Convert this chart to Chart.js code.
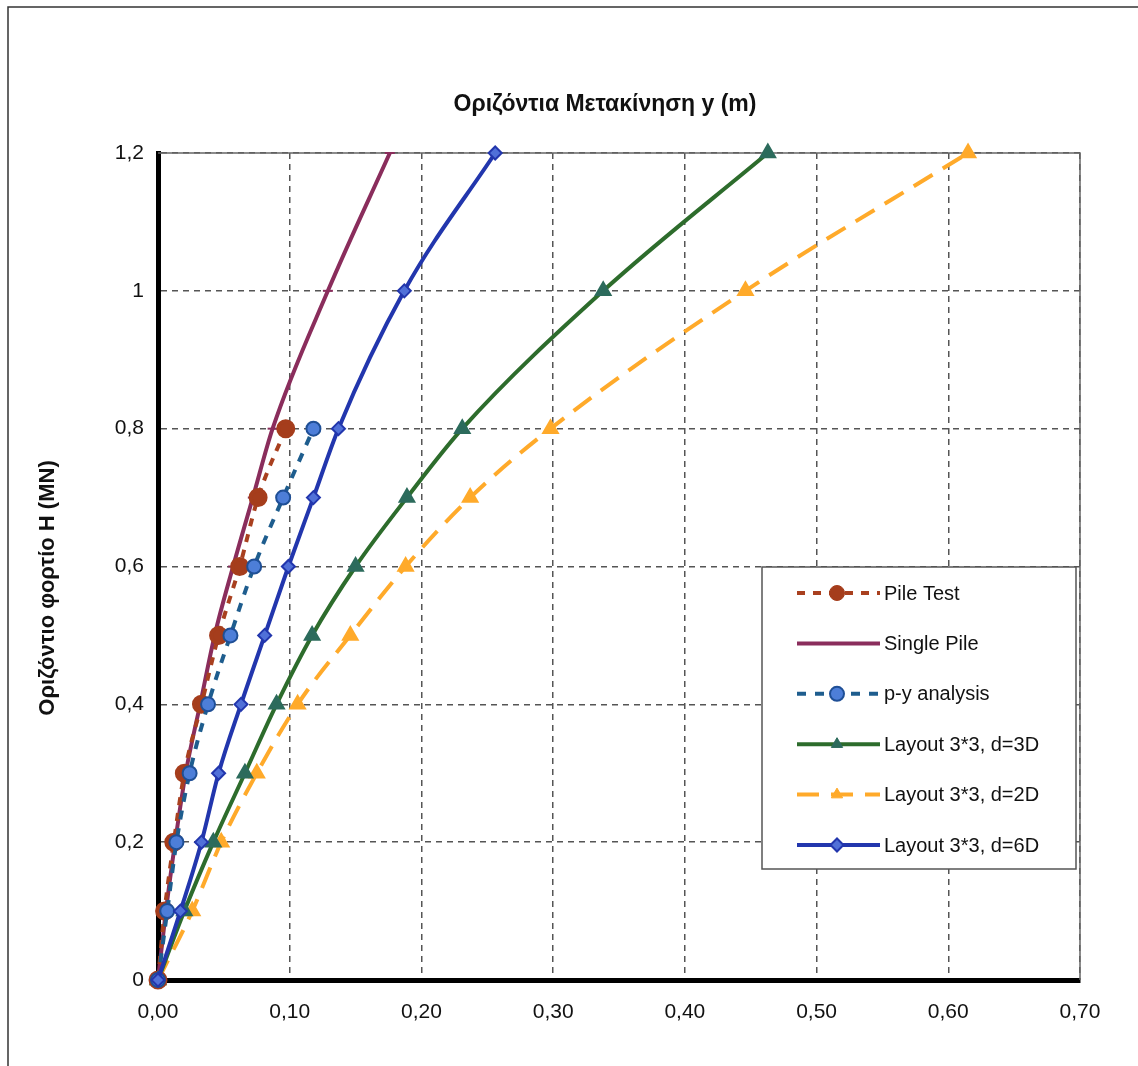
<!DOCTYPE html>
<html>
<head>
<meta charset="utf-8">
<script src="https://cdn.jsdelivr.net/npm/chart.js@4.4.1/dist/chart.umd.min.js"></script>
<style>
  body { margin: 0; background: #fff; }
  canvas { display: block; }
</style>
</head>
<body>
<canvas id="chart" width="1138" height="1066"></canvas>
<script>
// loads (MN) and horizontal displacements (m)
const loadsShort = [0, 0.1, 0.2, 0.3, 0.4, 0.5, 0.6, 0.7, 0.8];
const loadsLong = [0, 0.1, 0.2, 0.3, 0.4, 0.5, 0.6, 0.7, 0.8, 1.0, 1.2];

const pileTest = [0, 0.005, 0.012, 0.020, 0.033, 0.046, 0.062, 0.076, 0.097];
const pyAnalysis = [0, 0.007, 0.014, 0.024, 0.038, 0.055, 0.073, 0.095, 0.118];
const singlePile = [0, 0.006, 0.013, 0.021, 0.032, 0.043, 0.057, 0.072, 0.087, 0.129, 0.176];
const layout3D = [0, 0.020, 0.042, 0.066, 0.090, 0.117, 0.150, 0.189, 0.231, 0.338, 0.463];
const layout2D = [0, 0.026, 0.048, 0.075, 0.106, 0.146, 0.188, 0.237, 0.298, 0.446, 0.615];
const layout6D = [0, 0.017, 0.033, 0.046, 0.063, 0.081, 0.099, 0.118, 0.137, 0.187, 0.256];

const xTicksMax = 0.7, yTicksMax = 1.2;
const titleText = "Οριζόντια Μετακίνηση y (m)";
const yTitleText = "Οριζόντιο φορτίο Η (MN)";

function pts(xs, ys) {
  return xs.map((x, i) => ({ x: x, y: ys[i] }));
}

// order: lower is drawn on top
const datasets = [
  {
    label: "Pile Test",
    data: pts(pileTest, loadsShort),
    order: 2,
    borderColor: "#a9401f",
    borderWidth: 4,
    borderDash: [8, 8],
    pointStyle: "circle",
    pointRadius: 7.5,
    pointBackgroundColor: "#a53d1c",
    pointBorderColor: "#a53d1c",
  },
  {
    label: "Single Pile",
    data: pts(singlePile, loadsLong),
    order: 3,
    borderColor: "#8a2d5c",
    borderWidth: 4,
    pointStyle: "line",
    pointRadius: 5,
    pointBorderColor: "#8a2d5c",
    pointBorderWidth: 2,
  },
  {
    label: "p-y analysis",
    data: pts(pyAnalysis, loadsShort),
    order: 1,
    borderColor: "#1e5d8e",
    borderWidth: 4,
    borderDash: [9, 9],
    pointStyle: "circle",
    pointRadius: 7,
    pointBackgroundColor: "#4d7ed8",
    pointBorderColor: "#1f4f96",
    pointBorderWidth: 2,
  },
  {
    label: "Layout 3*3, d=3D",
    data: pts(layout3D, loadsLong),
    order: 4,
    borderColor: "#2d6c2c",
    borderWidth: 4,
    pointStyle: "triangle",
    pointRadius: 6.5,
    pointBackgroundColor: "#2c6b5c",
    pointBorderColor: "#2c6b5c",
  },
  {
    label: "Layout 3*3, d=2D",
    data: pts(layout2D, loadsLong),
    order: 5,
    borderColor: "#ffaa2a",
    borderWidth: 4,
    borderDash: [22, 12],
    pointStyle: "triangle",
    pointRadius: 6.5,
    pointBackgroundColor: "#ffaa2a",
    pointBorderColor: "#ffaa2a",
  },
  {
    label: "Layout 3*3, d=6D",
    data: pts(layout6D, loadsLong),
    order: 0,
    borderColor: "#2236ad",
    borderWidth: 4,
    pointStyle: "rectRot",
    pointRadius: 6.5,
    pointBackgroundColor: "#5070d8",
    pointBorderColor: "#2236ad",
    pointBorderWidth: 2,
  },
];

function comma(v, d) {
  return v.toFixed(d).replace(".", ",");
}

const framePlugin = {
  id: "frame",
  beforeDraw(chart) {
    const c = chart.ctx;
    c.save();
    c.fillStyle = "#fff";
    c.fillRect(0, 0, chart.width, chart.height);
    c.strokeStyle = "#333";
    c.lineWidth = 1.5;
    c.beginPath();
    c.moveTo(8, chart.height);
    c.lineTo(8, 7);
    c.lineTo(chart.width, 7);
    c.stroke();
    c.restore();
  },
  beforeDatasetsDraw(chart) {
    const c = chart.ctx,
      a = chart.chartArea;
    c.save();
    // thin top and right edges of plot area
    c.strokeStyle = "#666";
    c.lineWidth = 1.5;
    c.beginPath();
    c.moveTo(a.left, a.top);
    c.lineTo(a.right, a.top);
    c.lineTo(a.right, a.bottom);
    c.stroke();
    c.restore();
  },
  afterDraw(chart) {
    const c = chart.ctx;
    c.save();
    // titles
    c.fillStyle = "#111";
    c.font = "bold 23px 'Liberation Sans', Arial, sans-serif";
    c.textAlign = "center";
    c.textBaseline = "middle";
    c.fillText(titleText, 605, 105);
    c.save();
    c.translate(48, 588);
    c.rotate(-Math.PI / 2);
    c.font = "bold 22px 'Liberation Sans', Arial, sans-serif";
    c.fillText(yTitleText, 0, 0);
    c.restore();

    // legend box
    const bx = 762, by = 567, bw = 314, bh = 302;
    c.fillStyle = "#fff";
    c.fillRect(bx, by, bw, bh);
    c.strokeStyle = "#555";
    c.lineWidth = 1.5;
    c.strokeRect(bx, by, bw, bh);
    c.font = "20px 'Liberation Sans', Arial, sans-serif";
    c.textAlign = "left";
    chart.data.datasets.forEach((ds, i) => {
      const y = 593 + i * 50.4;
      c.save();
      c.strokeStyle = ds.borderColor;
      c.lineWidth = ds.borderWidth;
      c.setLineDash(ds.borderDash || []);
      c.beginPath();
      c.moveTo(797, y);
      c.lineTo(880, y);
      c.stroke();
      c.restore();
      c.save();
      c.fillStyle = ds.pointBackgroundColor || ds.borderColor;
      c.strokeStyle = ds.pointBorderColor || ds.borderColor;
      c.lineWidth = ds.pointBorderWidth || 1;
      Chart.helpers.drawPoint(c, {
        pointStyle: ds.pointStyle,
        radius: ds.pointRadius,
        rotation: 0,
        borderWidth: ds.pointBorderWidth || 1,
      }, 837, y);
      c.restore();
      c.fillStyle = "#111";
      c.fillText(ds.label, 884, y + 1);
    });
    c.restore();
  },
};

new Chart(document.getElementById("chart"), {
  type: "line",
  data: { datasets: datasets },
  options: {
    responsive: false,
    animation: false,
    devicePixelRatio: 1,
    layout: { padding: { left: 0, top: 153, right: 58, bottom: 0 } },
    plugins: { legend: { display: false }, tooltip: { enabled: false } },
    datasets: { line: { clip: false } },
    elements: { line: { tension: 0.15, cubicInterpolationMode: "monotone" } },
    scales: {
      x: {
        type: "linear",
        min: 0,
        max: xTicksMax,
        afterFit: (s) => { s.height = 86; },
        ticks: {
          stepSize: 0.1,
          padding: 20,
          color: "#111",
          font: { size: 21, family: "'Liberation Sans', Arial, sans-serif" },
          callback: (v) => comma(v, 2),
        },
        grid: { color: "#555", lineWidth: 1.5, drawTicks: false },
        border: { color: "#000", width: 5, dash: [6, 5] },
      },
      y: {
        type: "linear",
        min: 0,
        max: yTicksMax,
        afterFit: (s) => { s.width = 158; },
        ticks: {
          stepSize: 0.2,
          padding: 14,
          color: "#111",
          font: { size: 21, family: "'Liberation Sans', Arial, sans-serif" },
          callback: (v) => (Math.abs(v - Math.round(v)) < 1e-9 ? String(Math.round(v)) : comma(v, 1)),
        },
        grid: { color: "#555", lineWidth: 1.5, drawTicks: false },
        border: { color: "#000", width: 5, dash: [6, 5] },
      },
    },
  },
  plugins: [framePlugin],
});
</script>
</body>
</html>
